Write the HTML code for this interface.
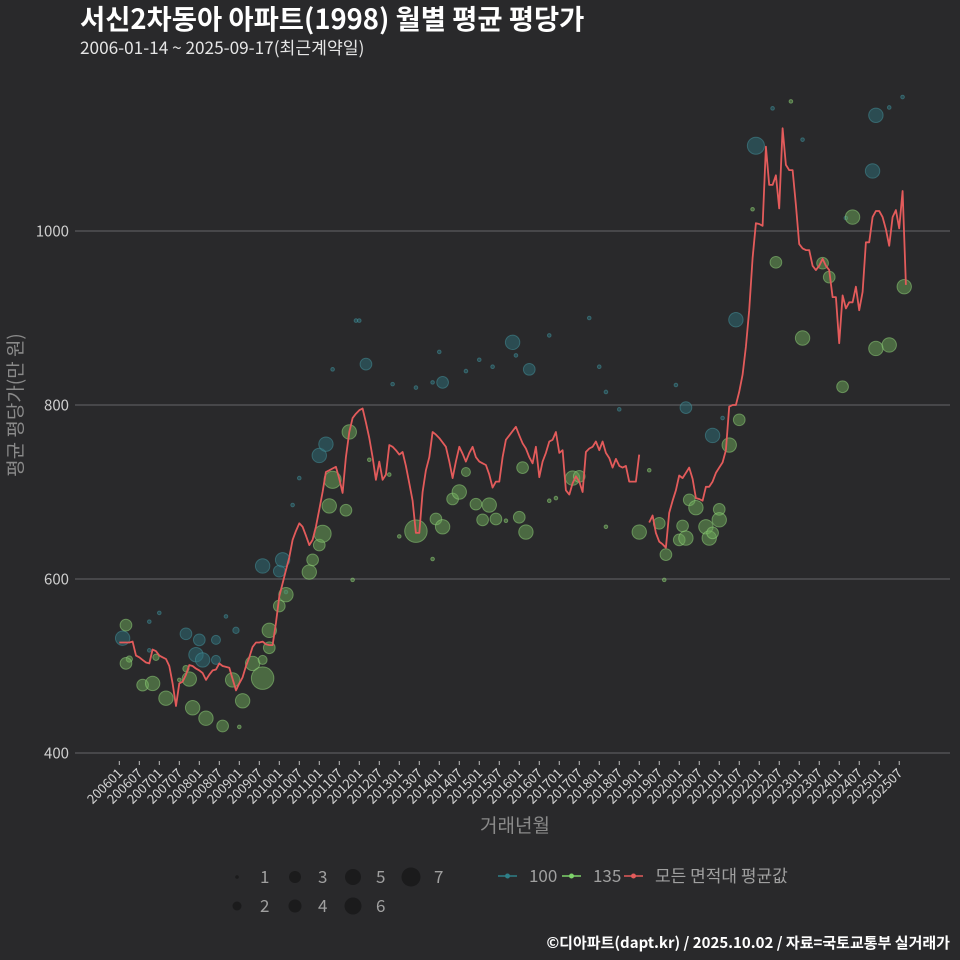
<!DOCTYPE html>
<html><head><meta charset="utf-8"><style>
body{margin:0;background:#29292b;}
svg{display:block;font-family:"Noto Sans CJK KR","Liberation Sans",sans-serif;}
</style></head><body>
<svg id="chart" width="960" height="960" viewBox="0 0 960 960">
<rect width="960" height="960" fill="#29292b"/>
<text x="80" y="29" fill="#ffffff" font-size="27.4" font-weight="bold">서신2차동아 아파트(1998) 월별 평균 평당가</text>
<text x="80" y="54" fill="#e6e6e6" font-size="17.2">2006-01-14 ~ 2025-09-17(최근계약일)</text>
<g id="grid"></g>
<g id="bubbles"></g>
<g id="line"></g>
<g id="xaxis"></g>
<text x="22" y="405" transform="rotate(-90,22,405)" text-anchor="middle" fill="#8a8a8a" font-size="19">평균 평당가(만 원)</text>
<text x="515" y="832" text-anchor="middle" fill="#8a8a8a" font-size="19">거래년월</text>
<g id="legend"></g>
<text x="950" y="948" text-anchor="end" fill="#ffffff" font-size="15" font-weight="bold">©디아파트(dapt.kr) / 2025.10.02 / 자료=국토교통부 실거래가</text>
</svg>
<script>
const yTicks=[400,600,800,1000];
const xTickLabels=[];
for(let y=2006;y<=2025;y++){xTickLabels.push(y+"01");xTickLabels.push(y+"07");}
const avgValues=[
527,527,527,527,528,512,510,507,504,503,519,517,
512,510,508,500,480,454,480,482,490,501,500,497,
495,492,484,490,495,496,503,500,499,498,485,472,
480,487,500,510,522,527,527,528,525,524,524,550,
580,595,610,625,645,655,664,660,650,639,645,660,
680,700,723,725,727,729,715,699,740,769,785,790,
794,796,780,762,740,714,735,714,720,754,752,748,
743,746,730,710,690,653,653,700,725,740,769,766,
762,757,752,735,716,735,752,744,735,745,752,740,
735,733,731,720,705,712,712,740,760,765,770,775,
765,756,750,740,733,752,717,735,745,758,760,769,
745,748,702,697,710,718,712,700,746,750,752,758,
748,758,745,739,728,738,730,728,730,712,712,712,
743,null,null,665,673,653,643,640,636,676,690,702,
719,716,722,728,715,693,692,690,706,706,712,722,
728,734,748,798,800,800,815,835,867,909,969,1009,
1008,1006,1097,1053,1053,1064,1026,1118,1076,1070,1070,1030,
985,980,978,978,960,955,960,968,960,955,924,924,
871,926,911,918,918,936,909,930,987,987,1016,1023,
1023,1016,1002,983,1016,1024,1003,1046,938];
const bubMonth=[1,9,9,12,20,24,29,23,29,32,35,25,43,50,48,49,52,54,60,62,64,71,72,74,82,89,94,97,96,104,108,112,118,119,123,129,141,144,146,150,167,170,178,181,185,191,196,205,227,231,235,226,218,
3,2,2,7,10,11,14,18,21,22,20,26,31,36,37,34,40,43,43,45,45,48,50,57,58,60,61,63,64,68,69,70,75,81,84,89,94,95,97,100,104,102,107,109,111,113,116,120,121,122,129,131,136,138,146,156,159,162,163.5,164,168,169,170,171,173,176,177,178,180,180,183,186,190,197,201.5,205,211,213,217,220,227,231,235.5];
const bubValue=[532,518,551,561,537,530,530,513,507,557,541,507,615,585,609,622,685,716,742,755,841,897,897,847,824,820,826,826,861,839,852,844,872,857,841,880,900,844,815,795,823,797,765,785,898,1098,1141,1105,1133,1142,1154,1069,1015,
508,503,547,478,480,510,463,484,485,452,497,440,431,430,460,484,503,507,486,521,541,569,582,608,622,639,652,684,714,679,769,599,737,720,649,655,623,669,660,692,723,700,686,668,685,669,667,671,728,654,690,693,716,718,660,654,725,664,599,628,645,661,647,691,682,660,647,653,680,668,754,783,1025,964,1149,877,963,947,821,1016,865,869,936];
const bubCount=[5,1,1,1,4,4,3,5,3,1,2,5,5,1,4,5,1,1,5,5,1,1,1,4,1,1,1,4,1,1,1,1,5,1,4,1,1,1,1,1,1,4,5,1,5,6,1,1,5,1,1,5,1,
2,4,4,4,5,2,5,1,5,5,2,5,4,1,5,5,5,3,8,4,5,4,5,5,4,4,6,5,6,4,5,1,1,1,1,8,1,4,5,4,3,5,4,4,5,4,1,4,4,5,1,1,5,4,1,5,1,4,1,4,4,4,5,4,5,5,5,4,4,5,5,4,1,4,1,5,4,4,4,5,5,5,5];
const bubType=[];
for(let i=0;i<bubMonth.length;i++){bubType.push(i<53?100:135);}

const NS="http://www.w3.org/2000/svg";
function X(m){return 119.3+m*3.333;}
function Y(v){return 753-(v-400)*0.87;}
function R(n){return 1.8+(n-1)*1.35;}
function mk(tag,attrs,parent){const e=document.createElementNS(NS,tag);for(const k in attrs)e.setAttribute(k,attrs[k]);parent.appendChild(e);return e;}

const grid=document.getElementById('grid');
yTicks.forEach(t=>{
 const l=mk('line',{x1:75,x2:950,y1:Y(t),y2:Y(t),stroke:'#5a5a5c','stroke-width':1.3},grid);
 
 
 const tx=mk('text',{x:69,y:Y(t)+5.5,'text-anchor':'end',fill:'#cfcfcf','font-size':15},grid);
 tx.textContent=t;
 
 
});

const xa=document.getElementById('xaxis');
xTickLabels.forEach((lab,i)=>{
 const x=X(i*6);
 const tk=mk('line',{x1:x,x2:x,y1:761,y2:765,stroke:'#bdbdbd','stroke-width':1},xa);
 
 
 const tx=mk('text',{x:x+4,y:774,'text-anchor':'end',fill:'#d6d6d6','font-size':13,transform:`rotate(-45,${x+4},774)`},xa);
 tx.textContent=lab;
 
 
});

const bg=document.getElementById('bubbles');
for(let i=0;i<bubMonth.length;i++){
 const teal=bubType[i]===100;
 const c=mk('circle',{cx:X(bubMonth[i]),cy:Y(bubValue[i]),r:R(bubCount[i]),
  fill:teal?'rgba(46,112,122,0.5)':'rgba(110,170,90,0.5)',
  stroke:teal?'rgba(70,150,160,0.5)':'rgba(150,215,125,0.5)','stroke-width':1},bg);
 
 
}

const lg=document.getElementById('line');
let d='';let pen=false;
avgValues.forEach((v,i)=>{
 if(v===null){pen=false;return;}
 d+=(pen?'L':'M')+X(i).toFixed(1)+','+Y(v).toFixed(1);pen=true;
});
const p=mk('path',{d:d,fill:'none',stroke:'#e35b5b','stroke-width':1.8,'stroke-linejoin':'round'},lg);



const leg=document.getElementById('legend');
const sizeKeys=[1,2,3,4,5,6,7];
const legR=[1.8,4.5,6,6.5,8,8.5,9.5];
sizeKeys.forEach((n,i)=>{
 const col=Math.floor(i/2), row=i%2;
 const cx=237+col*58, cy=877+row*29;
 const c=mk('circle',{cx:cx,cy:cy,r:legR[i],fill:'#1b1b1c'},leg);
 
 
 const t=mk('text',{x:cx+23,y:cy+6,fill:'#a0a0a0','font-size':17},leg);
 t.textContent=n;
 
 
});
const lineKeys=[['100','#2e7f88',439],['135','#7ed36b',503],['모든 면적대 평균값','#e35b5b',565]];
lineKeys.forEach(k=>{
 const x0=k[2]+59;
 const l=mk('line',{x1:x0,x2:x0+19,y1:876,y2:876,stroke:k[1],'stroke-width':1.5},leg);
 
 
 const c=mk('circle',{cx:x0+9.5,cy:876,r:2.5,fill:k[1]},leg);
 
 
 const t=mk('text',{x:x0+31,y:882,fill:'#a0a0a0','font-size':17},leg);
 t.textContent=k[0];
 
 
});
</script>
</body></html>
